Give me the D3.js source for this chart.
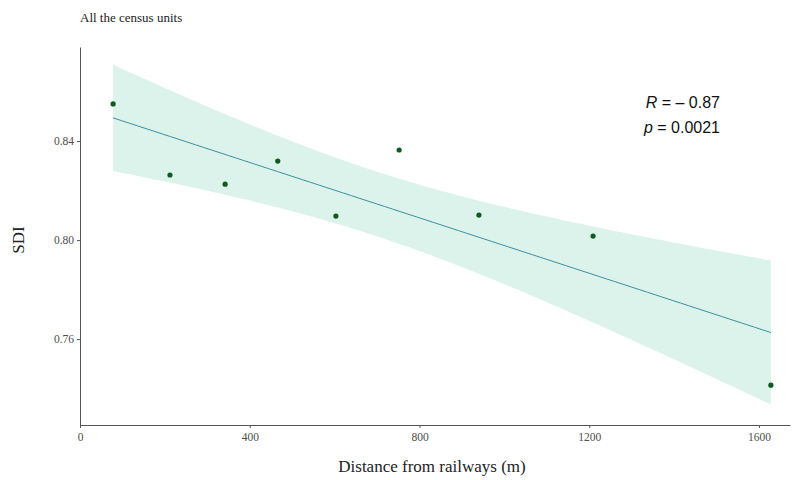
<!DOCTYPE html>
<html>
<head>
<meta charset="utf-8">
<script src="https://cdn.jsdelivr.net/npm/d3@7"></script>
<style>
  html, body { margin: 0; padding: 0; background: #fff; }
  svg { display: block; }
</style>
</head>
<body>
<svg id="chart" width="792" height="480"></svg>
<script>
// Census units: distance to the nearest railway (m) and SDI
const distance = [78, 212, 342, 466, 603, 752, 940, 1209, 1628];
const sdi = [0.855, 0.8263, 0.8226, 0.8319, 0.8097, 0.8364, 0.8101, 0.8016, 0.7414];
const xTicks = [0, 400, 800, 1200, 1600];
const yTicks = [0.76, 0.80, 0.84];
const statLabels = ["R", "p"];
const statValues = ["\u2013 0.87", "0.0021"];

const svg = d3.select("#chart");
const m = { left: 80, right: 790, top: 47, bottom: 425 };

const x = d3.scaleLinear().domain([0, 1673]).range([m.left, m.right]);
const y = d3.scaleLinear().domain([0.7253, 0.8780]).range([m.bottom, m.top]);

// Ordinary least squares fit with 95% confidence band
const n = distance.length;
const mx = d3.mean(distance), my = d3.mean(sdi);
const sxx = d3.sum(distance, d => (d - mx) ** 2);
const sxy = d3.sum(distance, (d, i) => (d - mx) * (sdi[i] - my));
const slope = sxy / sxx;
const intercept = my - slope * mx;
const rss = d3.sum(distance, (d, i) => (sdi[i] - (intercept + slope * d)) ** 2);
const s = Math.sqrt(rss / (n - 2));
const tCrit = 2.364624; // t(0.975, df = 7)

const xMin = d3.min(distance), xMax = d3.max(distance);
const grid = d3.range(0, 81).map(k => xMin + (xMax - xMin) * k / 80);
const fit = grid.map(g => {
  const yh = intercept + slope * g;
  const se = s * Math.sqrt(1 / n + (g - mx) ** 2 / sxx);
  return { x: g, y: yh, lo: yh - tCrit * se, hi: yh + tCrit * se };
});

svg.append("path")
  .datum(fit)
  .attr("fill", "#dcf3ec")
  .attr("d", d3.area().x(d => x(d.x)).y0(d => y(d.lo)).y1(d => y(d.hi)));

svg.append("path")
  .datum(fit)
  .attr("fill", "none")
  .attr("stroke", "#3d8f9c")
  .attr("stroke-width", 1)
  .attr("d", d3.line().x(d => x(d.x)).y(d => y(d.y)));

// Points
svg.append("g").selectAll("circle")
  .data(distance)
  .join("circle")
  .attr("cx", d => x(d))
  .attr("cy", (d, i) => y(sdi[i]))
  .attr("r", 2.6)
  .attr("fill", "#0f5a1e");

// Axes
const xAxis = svg.append("g")
  .attr("transform", `translate(0,${m.bottom})`)
  .call(d3.axisBottom(x).tickValues(xTicks).tickFormat(d3.format("d")).tickSize(3).tickSizeOuter(0));
const yAxis = svg.append("g")
  .attr("transform", `translate(${m.left},0)`)
  .call(d3.axisLeft(y).tickValues(yTicks).tickFormat(d3.format(".2f")).tickSize(3).tickSizeOuter(0));

[xAxis, yAxis].forEach(g => {
  g.select(".domain").attr("stroke", "#555").attr("stroke-width", 1);
  g.selectAll(".tick line").attr("stroke", "#555");
  g.selectAll(".tick text")
    .attr("fill", "#4d4d4d")
    .style("font-family", "'Liberation Serif', 'Times New Roman', serif")
    .style("font-size", "11.5px");
});
xAxis.selectAll(".tick text").attr("dy", "0.85em");

// Titles
const serif = "'Liberation Serif', 'Times New Roman', serif";
svg.append("text")
  .attr("x", 80).attr("y", 22)
  .style("font-family", serif).style("font-size", "13px")
  .attr("fill", "#222")
  .text("All the census units");

svg.append("text")
  .attr("x", 432).attr("y", 472)
  .attr("text-anchor", "middle")
  .style("font-family", serif).style("font-size", "17px")
  .attr("fill", "#222")
  .text("Distance from railways (m)");

svg.append("text")
  .attr("transform", "translate(24,240) rotate(-90)")
  .attr("text-anchor", "middle")
  .style("font-family", serif).style("font-size", "17px")
  .attr("fill", "#222")
  .text("SDI");

// Correlation annotation
const stat = svg.append("g")
  .style("font-family", "'Liberation Sans', Arial, sans-serif")
  .style("font-size", "16px")
  .attr("fill", "#111");
statLabels.forEach((lab, i) => {
  const t = stat.append("text")
    .attr("x", 720).attr("y", 108 + i * 25)
    .attr("text-anchor", "end");
  t.append("tspan").style("font-style", "italic").text(lab);
  t.append("tspan").text(" = " + statValues[i]);
});
</script>
</body>
</html>
